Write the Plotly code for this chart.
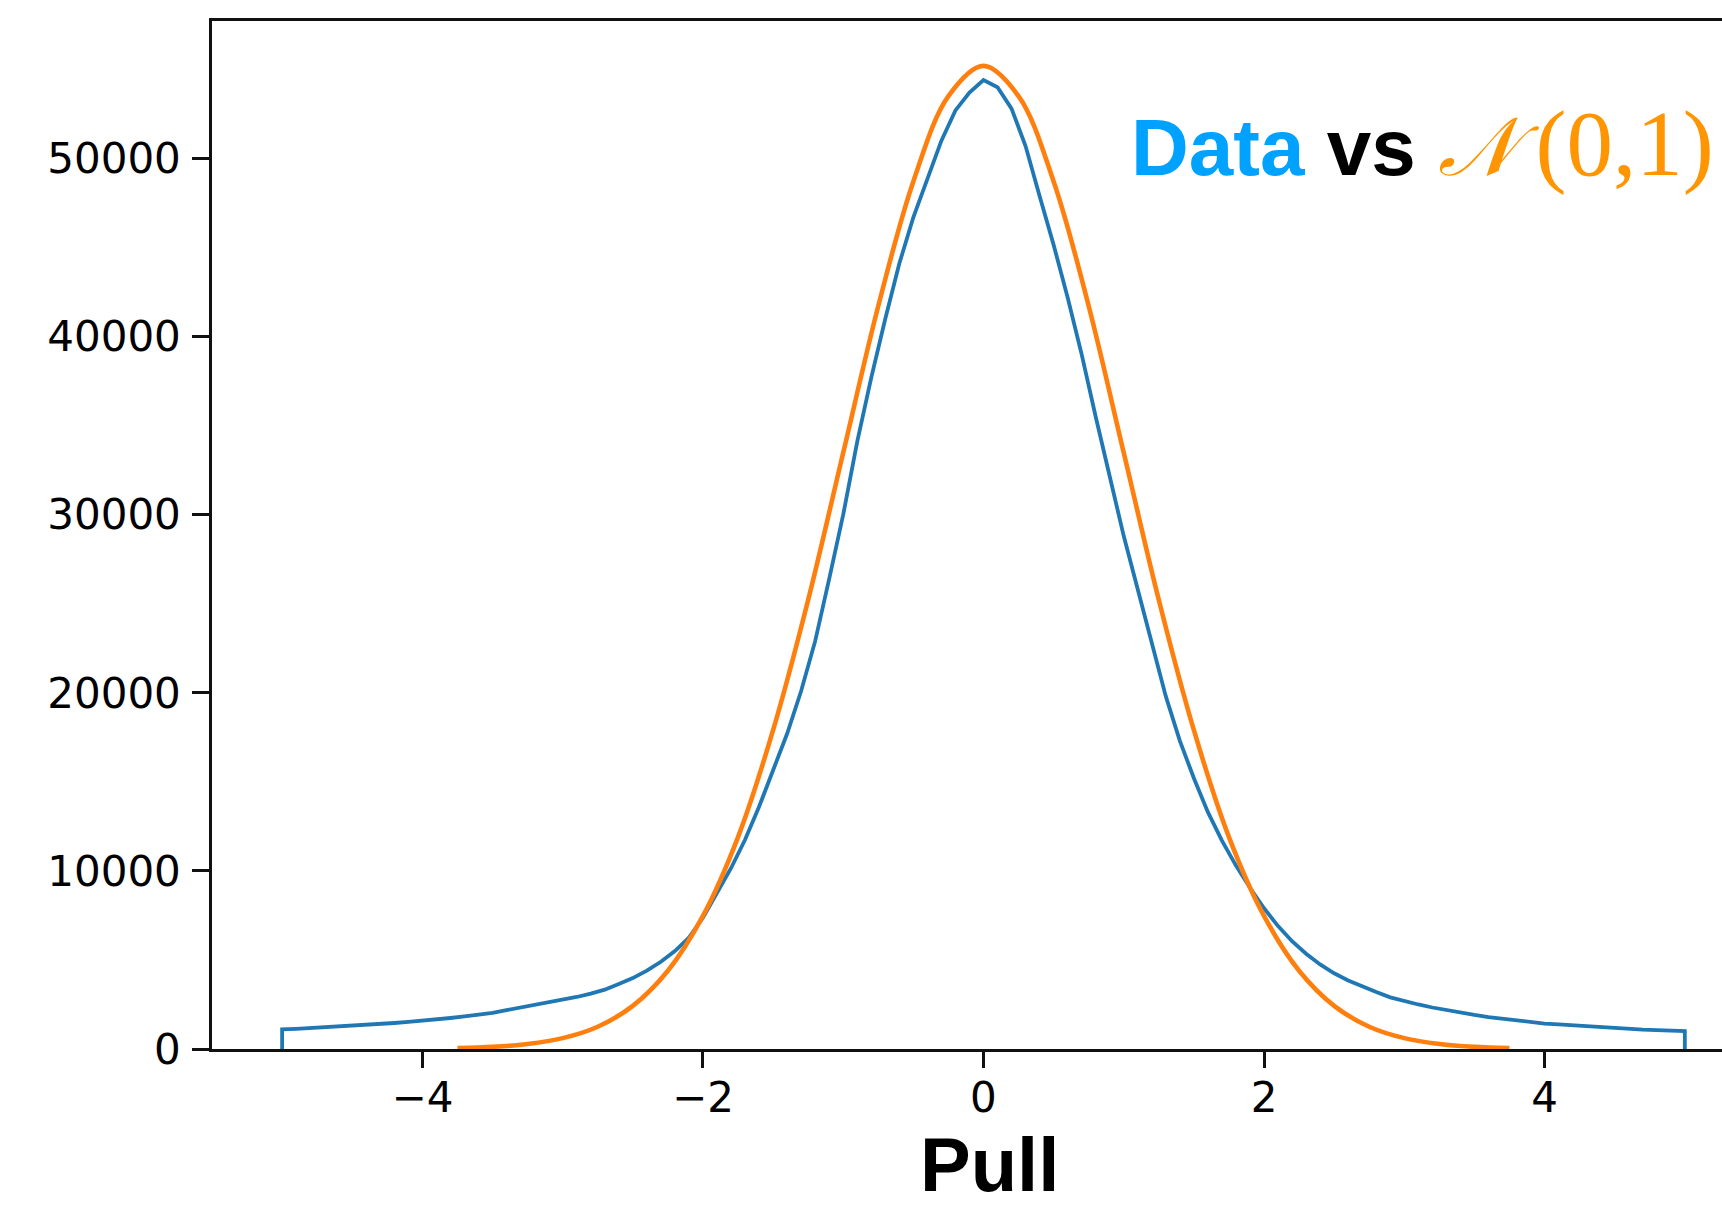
import numpy as np
import plotly.graph_objects as go

# Histogram of pulls (counts per bin, sampled every 0.1 in pull)
pull_grid = np.round(np.linspace(-5.0, 5.0, 101), 1)
data_counts = [
    1100, 1130, 1170, 1230, 1290, 1330, 1370, 1410, 1460, 1520,
    1580, 1650, 1740, 1830, 1920, 2030, 2180, 2320, 2460, 2600,
    2740, 2920, 3110, 3330, 3650, 3980, 4400, 4900, 5500, 6250,
    7370, 8750, 10150, 11750, 13600, 15650, 17700, 20100, 22900, 26400,
    30000, 34100, 37700, 41000, 44100, 46700, 48900, 51000, 52700, 53700,
    54400,
    54000, 52800, 50700, 47900, 45150, 42200, 39000, 35500, 32100, 28800,
    25800, 22700, 19800, 17300, 15200, 13300, 11700, 10300, 9050, 7900,
    6900, 6050, 5350, 4750, 4250, 3850, 3500, 3200, 2900, 2680,
    2500, 2330, 2180, 2040, 1910, 1790, 1690, 1590, 1490, 1430,
    1380, 1330, 1280, 1200, 1160, 1130, 1090, 1060, 1030, 1000,
]

# Reference standard normal curve, scaled to the histogram
normal_x = np.round(np.arange(-3.75, 3.76, 0.25), 2)
normal_counts = [
    50, 120, 280, 610, 1250, 2420, 4390, 7470, 11900, 17900,
    25210, 33480, 41720, 48710, 53500, 55200, 53500, 48710, 41720, 33480,
    25210, 17900, 11900, 7470, 4390, 2420, 1250, 610, 280, 120, 50,
]

x_tick_vals = [-4, -2, 0, 2, 4]
x_tick_text = ["\u22124", "\u22122", "0", "2", "4"]
y_tick_vals = [0, 10000, 20000, 30000, 40000, 50000]
y_tick_text = ["0", "10000", "20000", "30000", "40000", "50000"]

DATA_BLUE = "#1f77b4"
NORMAL_ORANGE = "#ff7f0e"
AXIS_COLOR = "#111111"

# Closed step outline: the histogram drops to zero at its outer edges
hist_x = [pull_grid[0]] + list(pull_grid) + [pull_grid[-1]]
hist_y = [0] + data_counts + [0]

fig = go.Figure()
fig.add_trace(go.Scatter(
    x=hist_x, y=hist_y, mode="lines",
    line=dict(color=DATA_BLUE, width=3.8),
    showlegend=False, hoverinfo="skip",
))
fig.add_trace(go.Scatter(
    x=normal_x, y=normal_counts, mode="lines",
    line=dict(color=NORMAL_ORANGE, width=4.6, shape="spline", smoothing=1.0),
    showlegend=False, hoverinfo="skip",
))

tick_font = dict(family="DejaVu Sans", size=42, color="#000000")

fig.update_layout(
    width=1722, height=1212,
    margin=dict(l=212, r=0, t=21, b=163, pad=0),
    paper_bgcolor="white", plot_bgcolor="white",
    xaxis=dict(
        range=[-5.5, 5.265],
        showline=True, linecolor=AXIS_COLOR, linewidth=2.5, mirror=True,
        ticks="outside", ticklen=16, tickwidth=2.5, tickcolor=AXIS_COLOR,
        tickvals=x_tick_vals, ticktext=x_tick_text, tickfont=tick_font,
        ticklabelstandoff=-6,
        showgrid=False, zeroline=False,
    ),
    yaxis=dict(
        range=[0, 57720],
        showline=True, linecolor=AXIS_COLOR, linewidth=2.5,
        ticks="outside", ticklen=17, tickwidth=2.5, tickcolor=AXIS_COLOR,
        tickvals=y_tick_vals, ticktext=y_tick_text, tickfont=tick_font,
        ticklabelstandoff=3,
        showgrid=False, zeroline=False,
    ),
)

# Axis label under the x axis
fig.add_annotation(
    xref="paper", yref="paper", x=0.515, y=-0.1127,
    xanchor="center", yanchor="middle", showarrow=False,
    text="<b>Pull</b>",
    font=dict(family="Liberation Sans", size=76, color="#000000"),
)

# Title inside the plot, top right
fig.add_annotation(
    xref="paper", yref="paper", x=0.607, y=0.881,
    xanchor="left", yanchor="middle", showarrow=False,
    text=("<span style='color:#00A2FF'><b>Data</b></span> <b>vs</b> "
          "<span style='font-family:\"Liberation Serif\";font-size:93px;color:#FF9500'>"
          "<span style='font-size:82px'><i>\U0001D4A9</i></span>\u2009(0,1)</span>"),
    font=dict(family="Liberation Sans", size=80, color="#000000"),
)

fig.write_html("out.html")
